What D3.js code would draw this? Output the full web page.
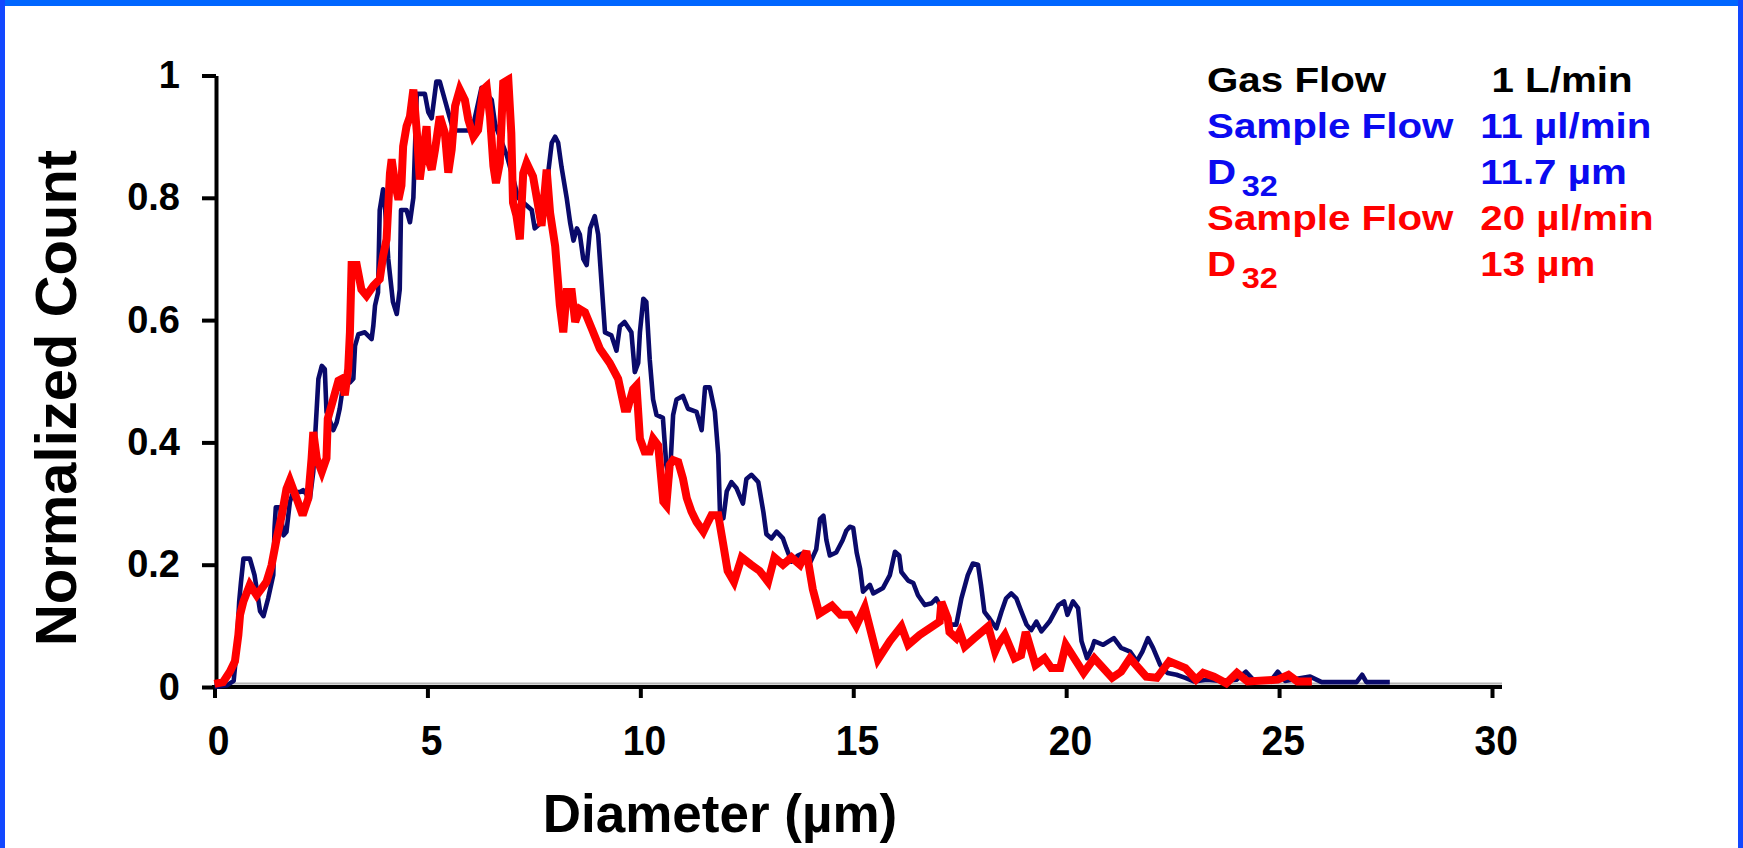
<!DOCTYPE html>
<html>
<head>
<meta charset="utf-8">
<script src="https://cdn.jsdelivr.net/npm/d3@7"></script>
<style>
  html, body { margin: 0; padding: 0; background: #ffffff; }
  svg { display: block; }
  text { font-family: "Liberation Sans", Arial, Helvetica, sans-serif; font-weight: bold; }
</style>
</head>
<body>
<svg id="chart" width="1743" height="848"></svg>
<script>
// ---------------- data ----------------
const xTicks = [0, 5, 10, 15, 20, 25, 30];
const yTicks = [0, 0.2, 0.4, 0.6, 0.8, 1];
const yTickLabels = ["0", "0.2", "0.4", "0.6", "0.8", "1"];
const xTitle = "Diameter (µm)";
const yTitle = "Normalized Count";

// 11 µl/min series (navy)
const blueDiameter = [0.0,0.3,0.45,0.52,0.58,0.62,0.68,0.83,0.94,1.07,1.15,1.26,1.38,1.41,1.44,1.54,1.62,1.69,1.77,1.85,2.01,2.08,2.24,2.32,2.36,2.40,2.44,2.52,2.59,2.63,2.79,2.87,2.94,3.02,3.18,3.26,3.30,3.38,3.53,3.69,3.73,3.77,3.84,3.88,3.96,4.0,4.08,4.19,4.28,4.35,4.38,4.51,4.59,4.67,4.75,4.94,5.02,5.10,5.21,5.29,5.45,5.61,6.0,6.08,6.27,6.39,6.51,6.59,6.86,7.02,7.13,7.29,7.45,7.52,7.68,7.80,7.92,8.0,8.07,8.15,8.27,8.35,8.43,8.51,8.58,8.66,8.74,8.82,8.93,9.01,9.09,9.17,9.32,9.44,9.52,9.63,9.79,9.87,9.95,9.99,10.07,10.14,10.22,10.30,10.38,10.53,10.61,10.69,10.77,10.85,11.0,11.12,11.32,11.44,11.52,11.63,11.75,11.83,11.87,11.95,12.03,12.14,12.26,12.41,12.49,12.61,12.77,12.89,12.96,13.08,13.2,13.35,13.43,13.55,13.7,13.85,14.0,14.13,14.22,14.3,14.37,14.45,14.6,14.75,14.84,14.92,15.0,15.08,15.16,15.23,15.39,15.47,15.70,15.86,15.98,16.08,16.13,16.29,16.41,16.52,16.68,16.84,16.95,17.07,17.19,17.3,17.42,17.54,17.69,17.81,17.93,18.0,18.08,18.2,18.36,18.48,18.59,18.71,18.83,18.95,19.07,19.18,19.3,19.42,19.61,19.82,19.95,20.03,20.16,20.28,20.36,20.49,20.61,20.66,20.87,21.12,21.29,21.5,21.66,21.79,21.92,22.04,22.21,22.38,22.59,22.8,23.0,23.3,23.64,24.0,24.22,24.39,24.8,24.97,25.14,25.73,26.0,26.82,26.95,27.05,27.6];
const blueCount = [0,0.003,0.01,0.06,0.14,0.17,0.21,0.21,0.183,0.124,0.116,0.145,0.183,0.26,0.294,0.294,0.248,0.254,0.303,0.319,0.319,0.322,0.308,0.352,0.406,0.455,0.504,0.525,0.52,0.45,0.42,0.433,0.455,0.493,0.498,0.504,0.558,0.577,0.58,0.569,0.591,0.624,0.645,0.78,0.814,0.79,0.70,0.63,0.61,0.65,0.78,0.78,0.76,0.80,0.97,0.97,0.94,0.93,0.99,0.99,0.95,0.91,0.91,0.92,0.98,0.97,0.96,0.92,0.87,0.83,0.80,0.79,0.78,0.75,0.76,0.82,0.89,0.90,0.89,0.85,0.80,0.76,0.73,0.75,0.74,0.70,0.69,0.75,0.77,0.74,0.66,0.58,0.575,0.55,0.59,0.597,0.58,0.515,0.53,0.58,0.635,0.63,0.536,0.47,0.445,0.44,0.363,0.34,0.445,0.47,0.476,0.455,0.45,0.42,0.49,0.49,0.45,0.38,0.286,0.276,0.32,0.335,0.325,0.30,0.34,0.347,0.335,0.286,0.25,0.243,0.254,0.243,0.227,0.205,0.215,0.22,0.205,0.225,0.275,0.28,0.24,0.215,0.22,0.24,0.256,0.262,0.26,0.22,0.194,0.156,0.167,0.153,0.162,0.183,0.221,0.215,0.188,0.174,0.17,0.15,0.134,0.137,0.145,0.129,0.112,0.102,0.102,0.145,0.183,0.202,0.2,0.167,0.123,0.112,0.096,0.123,0.145,0.153,0.145,0.123,0.102,0.093,0.107,0.091,0.107,0.134,0.14,0.118,0.14,0.129,0.075,0.047,0.064,0.075,0.069,0.08,0.064,0.058,0.042,0.058,0.08,0.064,0.036,0.023,0.02,0.015,0.009,0.012,0.01,0.012,0.025,0.012,0.01,0.025,0.01,0.017,0.008,0.008,0.02,0.008,0.008];

// 20 µl/min series (red)
const redDiameter = [0,0.2,0.36,0.48,0.56,0.6,0.68,0.83,0.99,1.22,1.34,1.46,1.58,1.69,1.77,1.93,2.07,2.2,2.28,2.32,2.4,2.52,2.63,2.66,2.79,2.91,2.99,3.06,3.14,3.18,3.22,3.34,3.45,3.57,3.73,3.88,3.96,4.04,4.12,4.16,4.24,4.32,4.39,4.43,4.51,4.59,4.67,4.76,4.82,4.94,4.98,5.02,5.1,5.18,5.29,5.41,5.49,5.57,5.65,5.76,5.88,5.96,6.08,6.19,6.31,6.39,6.47,6.55,6.61,6.7,6.78,6.9,6.97,7.01,7.09,7.17,7.25,7.33,7.48,7.6,7.68,7.76,7.8,7.88,8.0,8.11,8.19,8.27,8.39,8.47,8.58,8.7,8.86,9.05,9.28,9.48,9.63,9.7,9.83,9.91,9.99,10.1,10.22,10.3,10.42,10.54,10.61,10.69,10.77,10.89,11.0,11.09,11.2,11.32,11.48,11.59,11.67,11.83,11.95,12.05,12.2,12.38,12.6,12.8,13.0,13.15,13.35,13.55,13.75,13.9,14.05,14.2,14.5,14.7,14.92,15.07,15.27,15.58,15.86,16.13,16.29,16.56,17.03,17.07,17.22,17.26,17.42,17.5,17.62,17.85,18.17,18.33,18.4,18.56,18.79,18.94,19.05,19.28,19.49,19.65,19.86,19.99,20.41,20.66,21.08,21.29,21.5,21.88,22.13,22.42,22.8,23.05,23.22,23.47,23.76,24.01,24.26,24.97,25.22,25.43,25.77];
const redCount = [0.005,0.008,0.025,0.042,0.085,0.118,0.14,0.167,0.15,0.172,0.199,0.243,0.281,0.324,0.338,0.308,0.281,0.308,0.374,0.417,0.374,0.352,0.374,0.439,0.471,0.501,0.504,0.477,0.52,0.58,0.69,0.69,0.65,0.64,0.656,0.667,0.705,0.732,0.84,0.863,0.824,0.797,0.82,0.884,0.917,0.933,0.977,0.9,0.83,0.895,0.917,0.863,0.846,0.879,0.933,0.906,0.841,0.879,0.95,0.977,0.96,0.928,0.9,0.911,0.977,0.982,0.933,0.852,0.824,0.857,0.988,0.993,0.906,0.792,0.771,0.732,0.84,0.857,0.835,0.787,0.754,0.814,0.846,0.776,0.721,0.624,0.58,0.646,0.646,0.597,0.618,0.613,0.586,0.553,0.53,0.504,0.455,0.455,0.487,0.493,0.406,0.385,0.385,0.406,0.395,0.303,0.297,0.363,0.371,0.368,0.341,0.309,0.287,0.27,0.254,0.27,0.281,0.281,0.232,0.19,0.172,0.212,0.2,0.19,0.172,0.212,0.2,0.212,0.2,0.222,0.16,0.12,0.133,0.118,0.118,0.1,0.13,0.045,0.075,0.099,0.069,0.085,0.107,0.139,0.112,0.09,0.08,0.09,0.066,0.08,0.099,0.058,0.069,0.085,0.047,0.052,0.09,0.036,0.047,0.031,0.031,0.069,0.023,0.047,0.015,0.025,0.047,0.017,0.015,0.042,0.031,0.012,0.023,0.017,0.006,0.023,0.009,0.012,0.02,0.009,0.009];

// legend text
const legendLabels = ["Gas Flow", "Sample Flow", "D", "Sample Flow", "D"];
const legendSubs = ["", "", "32", "", "32"];
const legendValues = ["1 L/min", "11 µl/min", "11.7 µm", "20 µl/min", "13 µm"];
const legendColors = ["#000000", "#0a0af0", "#0a0af0", "#ff0000", "#ff0000"];

// ---------------- drawing ----------------
const svg = d3.select("#chart");

// frame (no bottom edge)
svg.append("rect").attr("x", 0).attr("y", 0).attr("width", 1743).attr("height", 848).attr("fill", "#ffffff");
svg.append("rect").attr("x", 0).attr("y", 0).attr("width", 1743).attr("height", 6).attr("fill", "#0066ff");
svg.append("rect").attr("x", 0).attr("y", 0).attr("width", 5).attr("height", 848).attr("fill", "#1248ff");
svg.append("rect").attr("x", 1738).attr("y", 0).attr("width", 5).attr("height", 848).attr("fill", "#1248ff");

const x = d3.scaleLinear().domain([0, 30]).range([214.5, 1492]);
const y = d3.scaleLinear().domain([0, 1]).range([687, 75.5]);

// gray plot border line just above x axis
svg.append("line")
  .attr("x1", 216).attr("x2", 1502).attr("y1", 683.5).attr("y2", 683.5)
  .attr("stroke", "#b4b4b4").attr("stroke-width", 2);

// x axis
const xAxis = d3.axisBottom(x).tickValues(xTicks).tickFormat(d3.format("d"))
  .tickSize(11).tickSizeOuter(0).tickPadding(27);
const gx = svg.append("g").attr("transform", `translate(0,${y(0)})`).call(xAxis);
gx.select(".domain").remove();
gx.selectAll(".tick line").attr("stroke", "#000").attr("stroke-width", 4);
gx.selectAll(".tick text")
  .attr("fill", "#000")
  .style("font-size", "42px")
  .attr("transform", "scale(0.93,1)")
  .attr("dx", 4);
svg.append("line")
  .attr("x1", 212).attr("x2", 1502).attr("y1", y(0)).attr("y2", y(0))
  .attr("stroke", "#000").attr("stroke-width", 4);

// y axis
const yAxis = d3.axisLeft(y).tickValues(yTicks).tickFormat((d, i) => yTickLabels[i])
  .tickSize(14).tickSizeOuter(0).tickPadding(22);
const gy = svg.append("g").attr("transform", "translate(216,0)").call(yAxis);
gy.select(".domain").attr("stroke", "#000").attr("stroke-width", 4);
gy.selectAll(".tick line").attr("stroke", "#000").attr("stroke-width", 4);
gy.selectAll(".tick text").attr("fill", "#000").style("font-size", "38px");

// series
const blueData = blueDiameter.map((d, i) => [d, blueCount[i]]);
const redData = redDiameter.map((d, i) => [d, redCount[i]]);
const line = d3.line().x(d => x(d[0])).y(d => y(d[1]));

svg.append("path").datum(blueData)
  .attr("d", line)
  .attr("fill", "none")
  .attr("stroke", "#0a0a6a")
  .attr("stroke-width", 4.6)
  .attr("stroke-linejoin", "round");

svg.append("path").datum(redData)
  .attr("d", line)
  .attr("fill", "none")
  .attr("stroke", "#ff0000")
  .attr("stroke-width", 8)
  .attr("stroke-linejoin", "miter")
  .attr("stroke-miterlimit", 3);

// axis titles
svg.append("text")
  .attr("x", 720).attr("y", 832)
  .attr("text-anchor", "middle")
  .style("font-size", "53px")
  .attr("fill", "#000")
  .text(xTitle);

svg.append("text")
  .attr("transform", "translate(76,398) rotate(-90)")
  .attr("text-anchor", "middle")
  .style("font-size", "58px")
  .attr("fill", "#000")
  .text(yTitle);

// legend block
const leg = svg.append("g").attr("transform", "translate(1207,0) scale(1.12,1)");
legendLabels.forEach((lab, i) => {
  const by = 92 + 46.1 * i;
  leg.append("text")
    .attr("x", 0).attr("y", by)
    .style("font-size", "36px")
    .attr("fill", legendColors[i])
    .text(lab);
  if (legendSubs[i]) {
    leg.append("text")
      .attr("x", 31).attr("y", by + 11.5)
      .style("font-size", "29px")
      .attr("fill", legendColors[i])
      .text(legendSubs[i]);
  }
  leg.append("text")
    .attr("x", i === 0 ? 254 : 244).attr("y", by)
    .style("font-size", "36px")
    .attr("fill", legendColors[i])
    .text(legendValues[i]);
});
</script>
</body>
</html>
